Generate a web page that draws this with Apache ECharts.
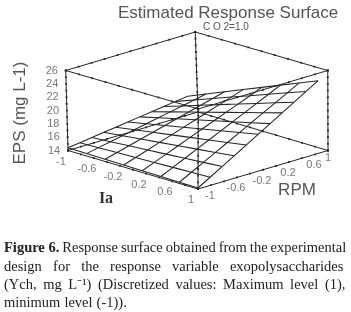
<!DOCTYPE html>
<html><head><meta charset="utf-8">
<style>html,body{margin:0;padding:0;background:#fff}#c{width:351px;height:312px;filter:blur(0.35px)}</style>
<script src="https://cdn.jsdelivr.net/npm/echarts@6/dist/echarts.min.js"></script>
</head><body><div id="c"></div>
<script>
const iaTicks = [-1,-0.6,-0.2,0.2,0.6,1];
const rpmTicks = [-1,-0.6,-0.2,0.2,0.6,1];
const epsTicks = [14,16,18,20,22,24,26];
const edgeMinor = [-1,-0.8,-0.6,-0.4,-0.2,0,0.2,0.4,0.6,0.8,1];
const epsMinor = [14,15,16,17,18,19,20,21,22,23,24,25,26];
const iaGrid = [-1,-0.714,-0.429,-0.143,0.143,0.429,0.714,1];
const rpmGrid = [-1,-0.815,-0.63,-0.445,-0.26,-0.075,0.11,0.295,0.48,0.665,0.85];
const epsSurface = [
 [14.40,14.36,14.33,14.29,14.26,14.22,14.19,14.15],
 [14.64,14.72,14.81,14.89,14.98,15.06,15.15,15.23],
 [14.88,15.08,15.29,15.49,15.69,15.89,16.10,16.30],
 [15.12,15.44,15.77,16.09,16.41,16.73,17.06,17.38],
 [15.36,15.80,16.24,16.68,17.13,17.57,18.01,18.45],
 [15.60,16.16,16.72,17.28,17.85,18.41,18.97,19.53],
 [15.84,16.52,17.20,17.88,18.56,19.24,19.92,20.60],
 [16.08,16.88,17.68,18.48,19.28,20.08,20.88,21.68],
 [16.32,17.24,18.16,19.08,19.99,20.91,21.83,22.75],
 [16.56,17.60,18.64,19.68,20.71,21.75,22.79,23.83],
 [16.80,17.96,19.11,20.27,21.43,22.59,23.74,24.90]
];
const captionLines = [
 "Response surface obtained from the experimental",
 "design for the response variable exopolysaccharides",
 "(Ych, mg L\u207B\u00B9) (Discretized values: Maximum level (1),",
 "minimum level (-1))."
];

function project(ia, rpm, eps) {
  const h = (eps - 14) / 12;
  return [
    198 + 65 * ia + 65 * rpm + h * (-1.25 + 1.25 * ia - 0.25 * rpm),
    150.5 + 19.25 * ia - 19.25 * rpm - 80 * h
  ];
}
const ink='#262626';
function meshLine(pts){
  return {type:'line', data:pts, showSymbol:false, symbol:'none', lineStyle:{color:ink,width:1.05}, silent:true, animation:false};
}
function edge(pts){
  return {type:'line', data:pts, showSymbol:true, symbol:'rect', symbolSize:1.8, showAllSymbol:true,
    itemStyle:{color:ink}, lineStyle:{color:ink, width:1}, silent:true, animation:false};
}
function labels(pts, size){
  return {type:'scatter', symbolSize:0, silent:true, animation:false, data:pts.map(p=>({value:p.pos, name:p.text})),
    label:{show:true, position:'inside', formatter:d=>d.name, color:'#555', fontSize:size, fontFamily:'Liberation Sans'}};
}
const series = [];
rpmGrid.forEach((r,j)=>series.push(meshLine(iaGrid.map((a,i)=>project(a,r,epsSurface[j][i])))));
iaGrid.forEach((a,i)=>series.push(meshLine(rpmGrid.map((r,j)=>project(a,r,epsSurface[j][i])))));
const signs=[[-1,-1],[1,-1],[1,1],[-1,1]];
[14,26].forEach(z=>{
  series.push(edge(edgeMinor.map(a=>project(a,-1,z))));
  series.push(edge(edgeMinor.map(a=>project(a,1,z))));
  series.push(edge(edgeMinor.map(r=>project(-1,r,z))));
  series.push(edge(edgeMinor.map(r=>project(1,r,z))));
});
signs.forEach(s=>series.push(edge(epsMinor.map(z=>project(s[0],s[1],z)))));
series.push(labels(epsTicks.map(z=>{const p=project(-1,-1,z);return {pos:[p[0]-14,p[1]],text:String(z)};}),11));
series.push(labels(iaTicks.map(a=>{const p=project(a,-1,14);return {pos:[p[0]-7,p[1]+11],text:String(a)};}),11));
series.push(labels(rpmTicks.map(r=>{const p=project(1,r,14);return {pos:[p[0]+(r===1?0:12),p[1]+7],text:String(r)};}),11));

const serif='Liberation Serif';
const capSize=14.5;
const cap={fontFamily:serif,fontSize:capSize,fontWeight:'normal',color:'#222'};
function justified(txt,leadBold){
  const words=txt.split(' ').map(w=>'{w|'+w+'}').join('{g| }');
  return (leadBold?'{b|'+leadBold+'}{g| }':'')+words;
}
function capTitle(txt,y,gap,lead){
  return {text:justified(txt,lead),left:4,top:y,padding:0,
    textStyle:{fontWeight:'normal',rich:{w:cap,b:Object.assign({},cap,{fontWeight:'bold'}),g:{width:gap,fontSize:capSize,fontWeight:'normal'}}}};
}
const option={
  animation:false,
  backgroundColor:'#fff',
  grid:{left:0,right:0,top:0,bottom:0},
  xAxis:{type:'value',min:0,max:351,show:false},
  yAxis:{type:'value',min:0,max:312,inverse:true,show:false},
  title:[
    {text:'Estimated Response Surface',left:118,top:5,padding:0,textStyle:{fontFamily:'Liberation Sans',fontSize:17,fontWeight:'normal',color:'#555'}},
    {text:'C O 2=1.0',left:203,top:22,padding:0,textStyle:{fontFamily:'Liberation Sans',fontSize:10,fontWeight:'normal',color:'#555'}},
    capTitle(captionLines[0],241,3,'Figure 6.'),
    capTitle(captionLines[1],260,11.2,null),
    capTitle(captionLines[2],278,6.6,null),
    capTitle(captionLines[3],296,4,null)
  ],
  graphic:[
    {type:'text',x:20,y:113,rotation:Math.PI/2,style:{text:'EPS (mg L-1)',fontFamily:'Liberation Sans',fontSize:17,fill:'#555',align:'center',verticalAlign:'middle'}},
    {type:'text',x:106,y:199,style:{text:'Ia',fontFamily:serif,fontWeight:'bold',fontSize:16,fill:'#333',align:'center',verticalAlign:'middle'}},
    {type:'text',x:297,y:190,style:{text:'RPM',fontFamily:'Liberation Sans',fontSize:17,fill:'#555',align:'center',verticalAlign:'middle'}}
  ],
  series
};
echarts.init(document.getElementById('c'),null,{renderer:'canvas'}).setOption(option);
</script></body></html>
